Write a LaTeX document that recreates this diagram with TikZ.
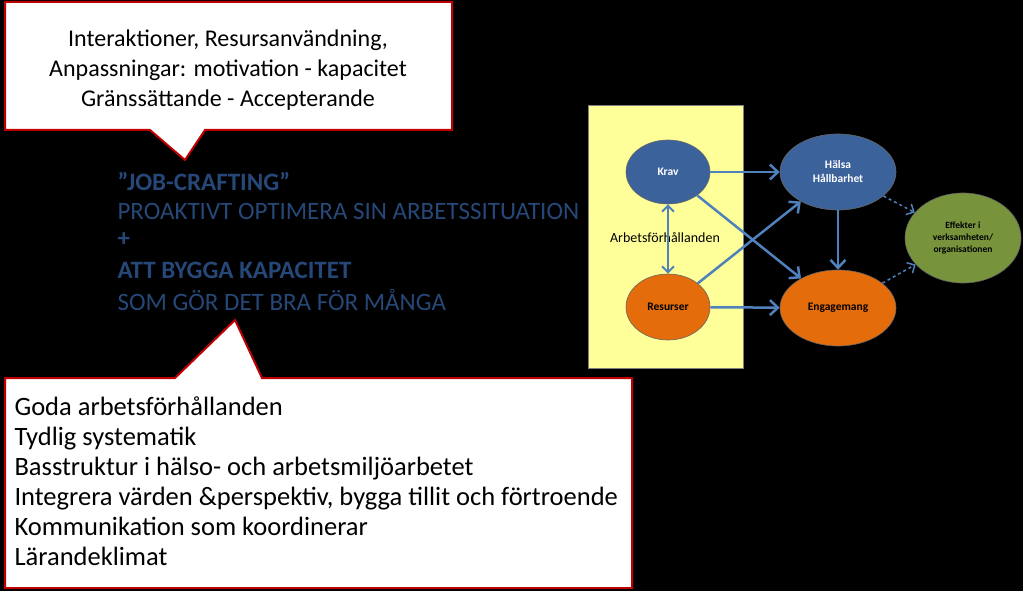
\documentclass[tikz,border=0pt]{standalone}
\usepackage{fontspec}
\setmainfont{Carlito}
\usetikzlibrary{arrows.meta}
\definecolor{rd}{HTML}{C00000}
\definecolor{dblue}{HTML}{264878}
\definecolor{ablue}{HTML}{4F81BD}
\definecolor{nblue}{HTML}{3B629A}
\definecolor{nor}{HTML}{E46C0A}
\definecolor{ngr}{HTML}{77933C}
\definecolor{yel}{HTML}{FFFF99}
\tikzset{
 callout/.style={draw=rd,line width=2pt,fill=white,line join=miter},
 ell/.style={ellipse,draw=black!60,line width=0.6pt,font=\fontsize{11.5}{14}\selectfont\bfseries,align=center},
 arr/.style={draw=ablue,line width=2.5pt,-{Straight Barb[length=8pt,width=15pt,line width=2.5pt]}},
 darr/.style={draw=ablue,line width=1.5pt,dashed,-{Straight Barb[length=6pt,width=12pt,line width=1.5pt]}},
 mid/.style={anchor=west,text=dblue,font=\fontsize{25}{28}\selectfont},
}
\usetikzlibrary{shapes.geometric}
\begin{document}
\begin{tikzpicture}[x=1pt,y=-1pt]
\fill[black] (0,0) rectangle (1023,591);
\useasboundingbox (0,0) rectangle (1023,591);
% top callout
\draw[callout] (5,2) -- (452,2) -- (452,130) -- (205,130) -- (185,160) -- (150,130) -- (5,130) -- cycle;
\node[align=center,font=\fontsize{24}{30}\selectfont] (t1) at (228,70) {Interaktioner, Resursanvändning,\\Anpassningar: motivation - kapacitet\\Gränssättande - Accepterande};
% middle text
\node[mid,font=\fontsize{25}{28}\selectfont\bfseries] (m1) at (114,181) {”JOB-CRAFTING”};
\node[mid] (m2) at (114,211) {PROAKTIVT OPTIMERA SIN ARBETSSITUATION};
\node[mid,font=\fontsize{25}{28}\selectfont\bfseries] (m3) at (114,240) {+};
\node[mid,font=\fontsize{25}{28}\selectfont\bfseries] (m4) at (114,270) {ATT BYGGA KAPACITET};
\node[mid] (m5) at (114,300) {SOM GÖR DET BRA FÖR MÅNGA};
% bottom callout
\draw[callout] (5,378) -- (175,378) -- (235,320) -- (262,378) -- (632,378) -- (632,588) -- (5,588) -- cycle;
\node[anchor=north west,align=left,font=\fontsize{26.5}{30}\selectfont] (b1) at (11,393) {Goda arbetsförhållanden\\Tydlig systematik\\Basstruktur i hälso- och arbetsmiljöarbetet\\Integrera värden \&perspektiv, bygga tillit och förtroende\\Kommunikation som koordinerar\\Lärandeklimat};
% diagram
\fill[yel,draw=black!50] (588,105) rectangle (743,368);
\node[ell,fill=nblue,text=white,minimum width=84pt,minimum height=64pt] (krav) at (668,172) {Krav};
\node[ell,fill=nor,text=black,minimum width=84pt,minimum height=66pt] (res) at (668,307) {Resurser};
\node[ell,fill=nblue,text=white,minimum width=116pt,minimum height=76pt] (hal) at (838,172) {Hälsa\\Hållbarhet};
\node[ell,fill=nor,text=black,minimum width=116pt,minimum height=76pt] (eng) at (838,308) {Engagemang};
\node[ell,fill=ngr,text=black,minimum width=116pt,minimum height=90pt,inner sep=1pt,font=\fontsize{9.5}{12}\selectfont\bfseries] (eff) at (963,238) {Effekter i\\verksamheten/\\organisationen};
\node[font=\fontsize{14}{16}\selectfont] (af) at (665,238) {Arbetsförhållanden};
\draw[draw=ablue,line width=2pt,{Straight Barb[length=6pt,width=12pt,line width=2pt]}-{Straight Barb[length=6pt,width=12pt,line width=2pt]}] (krav) -- (res);
\draw[arr] (krav) -- (hal);
\draw[arr] (krav) -- (eng);
\draw[arr] (res) -- (hal);
\draw[arr] (res) -- (eng);
\draw[arr,line width=2pt] (hal) -- (eng);
\draw[darr] (hal) -- (eff);
\draw[darr] (eng) -- (eff);
\end{tikzpicture}
\end{document}
